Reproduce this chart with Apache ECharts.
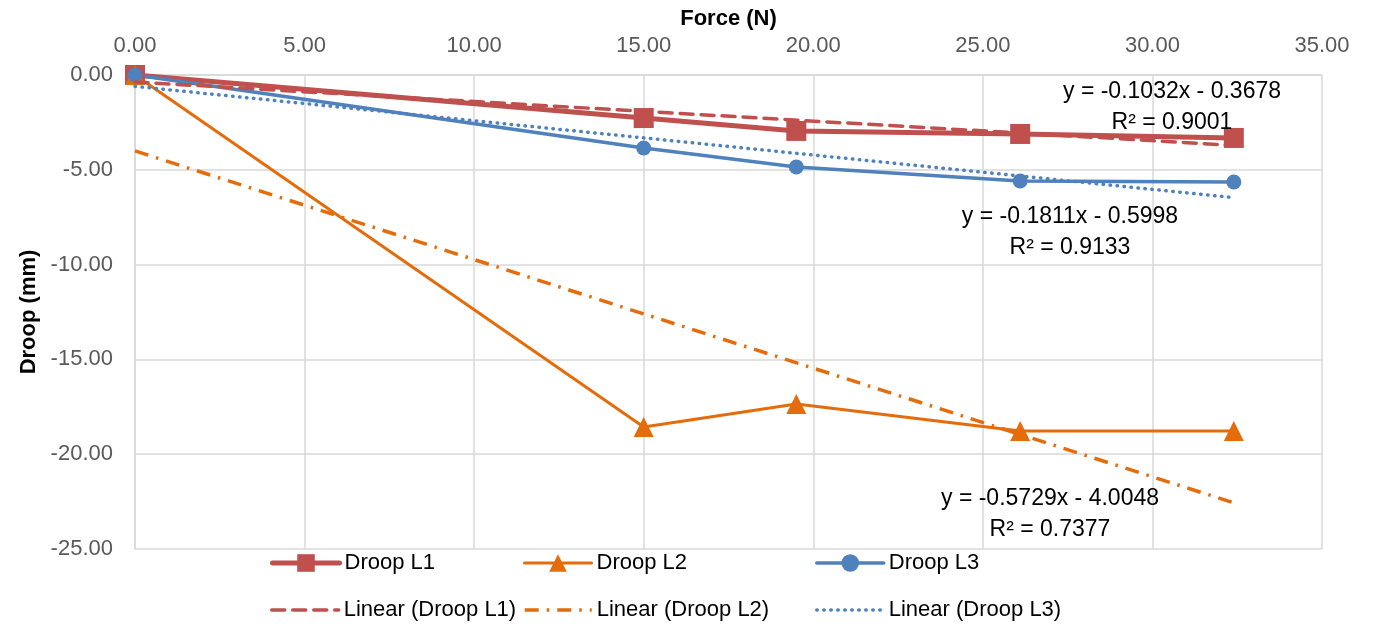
<!DOCTYPE html>
<html>
<head>
<meta charset="utf-8">
<script src="https://cdn.jsdelivr.net/npm/echarts@6/dist/echarts.min.js"></script>
<style>
  html, body { margin: 0; padding: 0; background: #fff; }
  #chart { width: 1377px; height: 627px; }
</style>
</head>
<body>
<div id="chart"></div>
<script>
// Applied force (N) for each measurement
const force = [0, 15.0, 19.5, 26.1, 32.4];

// Measured droop (mm) for each line
const droopL1 = [0, -2.27, -2.95, -3.11, -3.32];
const droopL2 = [0, -18.57, -17.35, -18.78, -18.78];
const droopL3 = [0, -3.85, -4.85, -5.59, -5.64];

// Linear trend coefficients (slope, intercept, R²) for L1, L2, L3
const trendSlope = [-0.1032, -0.5729, -0.1811];
const trendIntercept = [-0.3678, -4.0048, -0.5998];
const trendR2 = [0.9001, 0.7377, 0.9133];

const seriesNames = ['Droop L1', 'Droop L2', 'Droop L3'];
const trendNames = ['Linear (Droop L1)', 'Linear (Droop L2)', 'Linear (Droop L3)'];

const RED = '#C0504D', ORANGE = '#E46C0A', BLUE = '#4F81BD';
const FONT = 'Liberation Sans';

// Line styles shared by the plotted series and their legend entries
const dataLine = [
  { color: RED, width: 5, cap: 'round' },
  { color: ORANGE, width: 3, cap: 'round' },
  { color: BLUE, width: 3.5, cap: 'round' }
];
const dataSymbol = [['rect', 20], ['triangle', 20], ['circle', 15]];
const trendStyle = [
  { color: RED, width: 3.5, type: [13, 8], cap: 'round' },
  { color: ORANGE, width: 3.5, type: [14, 8, 2.5, 8] },
  { color: BLUE, width: 3.5, type: [0.5, 6.5], cap: 'round' }
];

function pairs(ys) { return force.map((x, i) => [x, ys[i]]); }

// Trend line drawn from the first to the last force value using the stated fit
function trendLine(k) {
  const x0 = force[0], x1 = force[force.length - 1];
  return [[x0, trendSlope[k] * x0 + trendIntercept[k]],
          [x1, trendSlope[k] * x1 + trendIntercept[k]]];
}

function eqText(k) {
  const b = trendIntercept[k];
  return 'y = ' + trendSlope[k].toFixed(4) + 'x ' + (b < 0 ? '- ' : '+ ') + Math.abs(b).toFixed(4);
}

const chart = echarts.init(document.getElementById('chart'), null, { renderer: 'canvas' });

// Legend laid out as a 3 x 2 grid under the plot
const legendLeft = [270, 523, 815];
const legendBase = {
  padding: 0, itemWidth: 67, itemHeight: 22,
  textStyle: { fontSize: 22, color: '#000', fontFamily: FONT, lineHeight: 24 }
};
const legends = [];
seriesNames.forEach((n, i) => legends.push(Object.assign({}, legendBase, {
  left: legendLeft[i], top: 551,
  data: [{ name: n, lineStyle: dataLine[i], itemStyle: { color: dataLine[i].color } }]
})));
trendNames.forEach((n, i) => legends.push(Object.assign({}, legendBase, {
  left: legendLeft[i], top: 598,
  data: [{ name: n, lineStyle: trendStyle[i], itemStyle: { color: 'rgba(0,0,0,0)', borderWidth: 0 } }]
})));

// Equation label anchors (pixel centre of the first line)
const eqPos = [[1172, 92], [1050, 499], [1070, 217]];
const graphics = [];
eqPos.forEach((p, k) => {
  graphics.push({
    type: 'text', x: p[0], y: p[1], z: 100,
    style: { text: eqText(k), font: '23px "' + FONT + '"', fill: '#000', textAlign: 'center', textVerticalAlign: 'middle' }
  });
  graphics.push({
    type: 'text', x: p[0], y: p[1] + 31, z: 100,
    style: { text: 'R\u00B2 = ' + trendR2[k].toFixed(4), font: '23px "' + FONT + '"', fill: '#000', textAlign: 'center', textVerticalAlign: 'middle' }
  });
});

const measured = [droopL1, droopL2, droopL3];

const option = {
  backgroundColor: '#fff',
  animation: false,
  textStyle: { fontFamily: FONT },
  grid: { left: 135, right: 55, top: 75, bottom: 78, containLabel: false },
  legend: legends,
  xAxis: {
    type: 'value', position: 'top', min: 0, max: 35, interval: 5,
    name: 'Force (N)', nameLocation: 'middle', nameGap: 45,
    nameTextStyle: { fontSize: 22, fontWeight: 'bold', color: '#000', fontFamily: FONT },
    axisLine: { show: true, lineStyle: { color: '#D9D9D9', width: 1.5 } },
    axisTick: { show: false },
    axisLabel: { fontSize: 22, color: '#595959', margin: 18, formatter: v => v.toFixed(2) },
    splitLine: { show: true, lineStyle: { color: '#D9D9D9', width: 1.5 } }
  },
  yAxis: {
    type: 'value', min: -25, max: 0, interval: 5,
    name: 'Droop (mm)', nameLocation: 'middle', nameGap: 95, nameRotate: 90,
    nameTextStyle: { fontSize: 22, fontWeight: 'bold', color: '#000', fontFamily: FONT },
    axisLine: { show: true, lineStyle: { color: '#D9D9D9', width: 1.5 } },
    axisTick: { show: false },
    axisLabel: { fontSize: 22, color: '#595959', margin: 22, formatter: v => v.toFixed(2) },
    splitLine: { show: true, lineStyle: { color: '#D9D9D9', width: 1.5 } }
  },
  series: seriesNames.map((n, i) => ({
    name: n, type: 'line', data: pairs(measured[i]),
    symbol: dataSymbol[i][0], symbolSize: dataSymbol[i][1], color: dataLine[i].color,
    lineStyle: dataLine[i], itemStyle: { color: dataLine[i].color }, z: 3
  })).concat(trendNames.map((n, i) => ({
    name: n, type: 'line', data: trendLine(i), symbol: 'none', color: trendStyle[i].color,
    lineStyle: trendStyle[i], z: 4
  }))),
  graphic: graphics
};

chart.setOption(option);
</script>
</body>
</html>
